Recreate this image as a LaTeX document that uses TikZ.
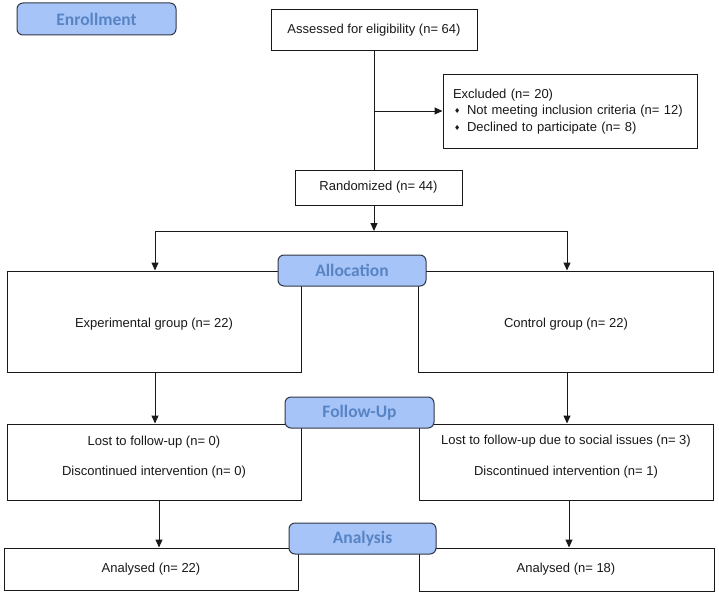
\documentclass[tikz,border=0pt]{standalone}
\usepackage{fontspec}
\setmainfont{Liberation Sans}
\newfontfamily\stagefont{Carlito}
\newfontfamily\symfont{DejaVu Sans}
\usetikzlibrary{arrows.meta}
\definecolor{stagefill}{RGB}{166,196,248}
\definecolor{stagetext}{RGB}{88,132,196}
\definecolor{stageedge}{RGB}{50,55,70}
\definecolor{ink}{RGB}{25,25,25}
\newcommand{\bul}{\makebox[14pt][l]{\hspace{1pt}\raisebox{1pt}{\symfont\fontsize{7}{7}\selectfont ♦}}}
\tikzset{
  box/.style={draw=ink, line width=1pt, fill=white, inner sep=0pt, align=center,
    text=ink, font=\fontsize{13}{16.5}\selectfont},
  txt/.style={inner sep=0pt, align=center, text=ink, font=\fontsize{13}{16.5}\selectfont},
  stage/.style={draw=stageedge, line width=1pt, fill=stagefill, rounded corners=6pt,
    inner sep=0pt, text=stagetext, font=\stagefont\bfseries\fontsize{17.5}{19}\selectfont},
  arr/.style={draw=ink, line width=1pt, -{Triangle[length=8pt,width=7pt]}},
  ln/.style={draw=ink, line width=1pt}
}
\begin{document}
\begin{tikzpicture}[x=1pt,y=-1pt]
\useasboundingbox (0,0) rectangle (719,599);

% enrollment
\node[box, minimum width=206pt, minimum height=41pt] (assess) at (374,30.5) {Assessed for eligibility (n= 64)};
\node[box, minimum width=254pt, minimum height=73pt, text width=234pt, align=left] (excl) at (570,111.5)
  {Excluded (n= 20)\\\bul Not meeting inclusion criteria (n= 12)\\\bul Declined to participate (n= 8)};
\node[box, minimum width=167pt, minimum height=35pt] (rand) at (378.5,187.5) {Randomized (n= 44)};

% allocation
\node[box, minimum width=294pt, minimum height=101pt] (exp) at (154,321.5) {};
\node[txt] (exptxt) at (154,324) {Experimental group (n= 22)};
\node[box, minimum width=295pt, minimum height=101pt] (ctrl) at (565.5,321.5) {};
\node[txt] (ctrltxt) at (566,324) {Control group (n= 22)};

% follow-up
\node[box, minimum width=294pt, minimum height=76pt] (lost1) at (154,462) {};
\node[txt] (lost1txt) at (154,457) {Lost to follow-up (n= 0)\\[14pt]Discontinued intervention (n= 0)};
\node[box, minimum width=294pt, minimum height=76pt] (lost2) at (566,462) {};
\node[txt] (lost2txt) at (566,456.5) {Lost to follow-up due to social issues (n= 3)\\[14pt]Discontinued intervention (n= 1)};

% analysis
\node[box, minimum width=294pt, minimum height=42pt] (an1) at (151,569) {};
\node[txt] (an1txt) at (151,569) {Analysed (n= 22)};
\node[box, minimum width=295pt, minimum height=43pt] (an2) at (566.5,569.5) {};
\node[txt] (an2txt) at (566,569) {Analysed (n= 18)};

% connectors
\coordinate (split) at (374,231);
\coordinate (splitL) at (155,231);
\coordinate (splitR) at (567,231);
\coordinate (branch) at (374,111);
\draw[ln] (assess.south) -- (assess.south |- rand.north);
\draw[arr] (branch) -- (branch -| excl.west);
\draw[arr] (rand.south -| split) -- (split);
\draw[ln] (splitL) -- (splitR);
\draw[arr] (splitL) -- (splitL |- exp.north);
\draw[arr] (splitR) -- (splitR |- ctrl.north);
\draw[arr] (splitL |- exp.south) -- (splitL |- lost1.north);
\draw[arr] (splitR |- ctrl.south) -- (splitR |- lost2.north);
\coordinate (dropL) at (159,500);
\coordinate (dropR) at (569,500);
\draw[arr] (dropL) -- (dropL |- an1.north);
\draw[arr] (dropR) -- (dropR |- an2.north);

% stage labels
\node[stage, minimum width=159pt, minimum height=32pt] (enroll) at (96.5,19) {Enrollment};
\node[stage, minimum width=148pt, minimum height=31pt] (alloc) at (352,270.5) {Allocation};
\node[stage, minimum width=149pt, minimum height=31pt] (follow) at (359.5,412.5) {Follow-Up};
\node[stage, minimum width=147pt, minimum height=31pt] (analysis) at (362.5,538.5) {Analysis};
\end{tikzpicture}
\end{document}
